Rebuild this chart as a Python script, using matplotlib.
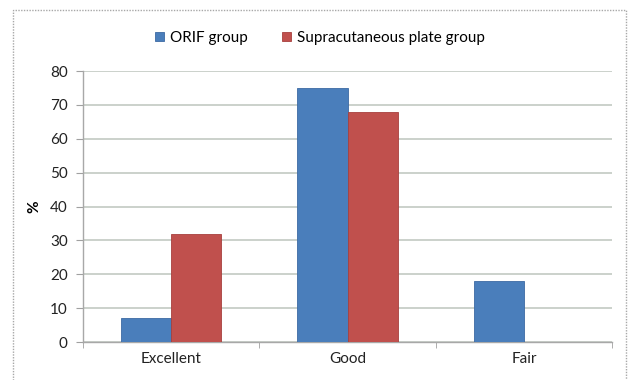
import numpy as np
import matplotlib.pyplot as plt
from matplotlib.patches import Rectangle

categories = ['Excellent', 'Good', 'Fair']
orif = [7, 75, 18]
supra = [32, 68, 0]
series_names = ['ORIF group', 'Supracutaneous plate group']
yticks = [0, 10, 20, 30, 40, 50, 60, 70, 80]

plt.rcParams['font.family'] = ['Lato', 'DejaVu Sans']

fig = plt.figure(figsize=(6.31, 3.80), dpi=100)
ax = fig.add_axes([0.1315, 0.1, 0.8385, 0.713])

# outer chart frame
frame = Rectangle((13 / 631, -0.05), (626 - 13) / 631, 1.05 - 10 / 380,
                  transform=fig.transFigure, fill=False, edgecolor='#a8a8a8',
                  linewidth=1.0, linestyle=(0, (1, 1)))
fig.add_artist(frame)

x = np.arange(len(categories))
w = 0.284
ax.bar(x - w / 2, orif, w, color='#4a7ebb', edgecolor='#3d6aa3', linewidth=0.6,
       label=series_names[0], zorder=3)
ax.bar(x + w / 2, supra, w, color='#c0504d', edgecolor='#a8403d', linewidth=0.6,
       label=series_names[1], zorder=3)

ax.set_xlim(-0.5, 2.5)
ax.set_ylim(0, 80)
ax.set_yticks(yticks)
ax.set_xticks(x)
ax.set_xticklabels(categories)
ax.set_xticks([-0.5, 0.5, 1.5, 2.5], minor=True)
ax.tick_params(axis='x', which='major', length=0, pad=7, labelsize=11, colors='#222222')
ax.tick_params(axis='x', which='minor', length=4, color='#a0a0a0', direction='out')
ax.tick_params(axis='y', length=5, direction='out', labelsize=11, pad=6,
               colors='#a0a0a0', labelcolor='#222222')

ax.yaxis.grid(True, color='#c2cac2', linewidth=1.2, zorder=0)
ax.set_axisbelow(True)
for side in ['top', 'right']:
    ax.spines[side].set_visible(False)
for side in ['left', 'bottom']:
    ax.spines[side].set_color('#a8a8a8')
    ax.spines[side].set_linewidth(1.0)

ax.set_ylabel('%', fontsize=11, fontweight='bold', labelpad=6)

ax.legend(loc='center', bbox_to_anchor=(0.448, 1.122), ncol=2, frameon=False,
          fontsize=11, handlelength=0.6, handleheight=0.6, handletextpad=0.4,
          columnspacing=2.2)

fig.savefig('out.png', dpi=100)
